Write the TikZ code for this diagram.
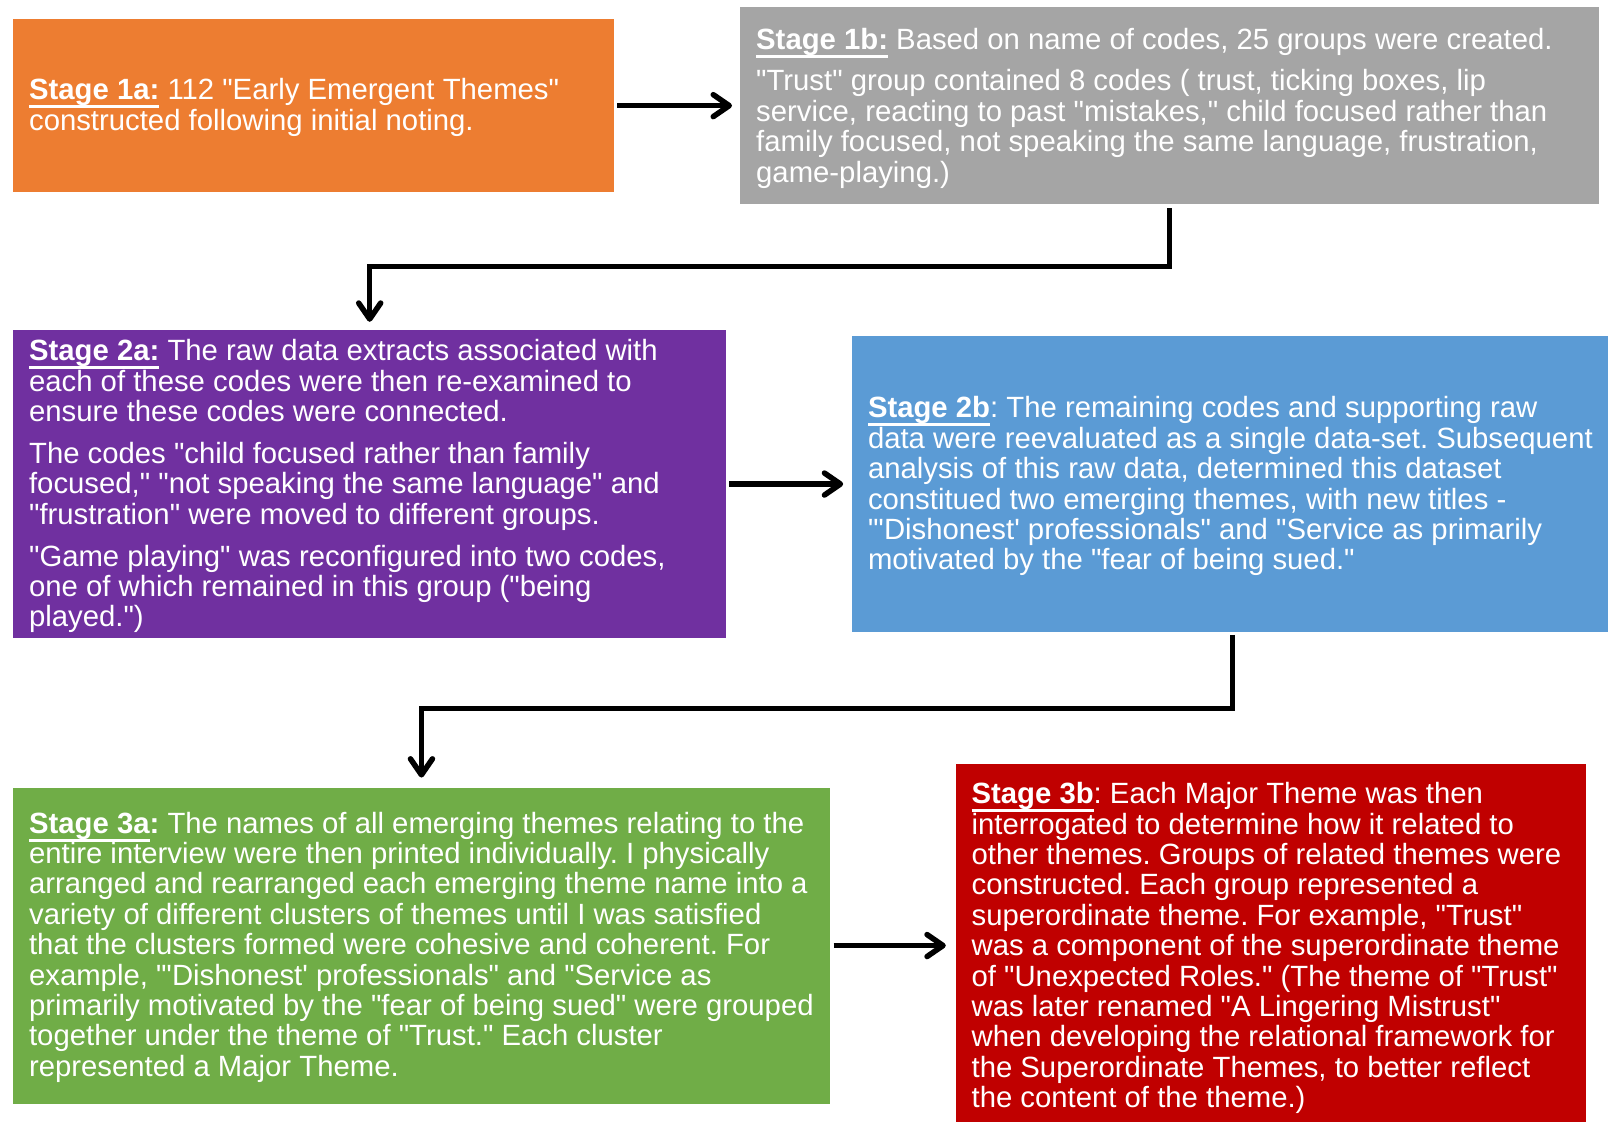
\documentclass[tikz,border=0pt]{standalone}
\usepackage{fontspec}
\setmainfont{Liberation Sans}[Ligatures=TeXOff]
\usetikzlibrary{arrows.meta}

\definecolor{stageorange}{HTML}{ED7D31}
\definecolor{stagegray}{HTML}{A5A5A5}
\definecolor{stagepurple}{HTML}{7030A0}
\definecolor{stageblue}{HTML}{5B9BD5}
\definecolor{stagegreen}{HTML}{70AD47}
\definecolor{stagered}{HTML}{C00000}

% bold, underlined stage label
\newcommand\stagemark[1]{\setbox0\hbox{\bfseries #1}\rlap{\rule[-4.3pt]{\wd0}{1.5pt}}\box0\relax}

\tikzset{
  stagebox/.style={anchor=north west, inner sep=0pt, outer sep=0pt, draw=none},
  stagetext/.style={anchor=west, inner sep=0pt, align=left, text=white,
    font=\fontsize{14.65pt}{15.2pt}\selectfont\frenchspacing},
  conn/.style={line width=2.75pt, draw=black,
    -{Straight Barb[length=8pt,width=11pt,line cap=round,line join=round]}},
}

\begin{document}
\begin{tikzpicture}[x=0.5pt, y=-0.5pt]
\useasboundingbox (0,0) rectangle (1608,1122);

% stage boxes
\node[stagebox, fill=stageorange, minimum width=300.5pt, minimum height=86.15pt] (s1a) at (13.3,19.5) {};
\node[stagebox, fill=stagegray, minimum width=429.2pt, minimum height=98.45pt] (s1b) at (740.4,7.2) {};
\node[stagebox, fill=stagepurple, minimum width=356.4pt, minimum height=153.85pt] (s2a) at (13.3,330.2) {};
\node[stagebox, fill=stageblue, minimum width=378pt, minimum height=147.65pt] (s2b) at (852.2,336.4) {};
\node[stagebox, fill=stagegreen, minimum width=408.15pt, minimum height=157.95pt] (s3a) at (13.3,787.6) {};
\node[stagebox, fill=stagered, minimum width=315.3pt, minimum height=179pt] (s3b) at (955.8,764) {};

% box texts
\node[stagetext] (t1a) at ([xshift=7.7pt,yshift=-0.9pt]s1a.west) {%
\stagemark{Stage 1a:} 112 "Early Emergent Themes"\\
constructed following initial noting.};

\node[stagetext] (t1b) at ([xshift=7.7pt,yshift=-1.2pt]s1b.west) {%
\stagemark{Stage 1b:} Based on name of codes, 25 groups were created.\\[5.75pt]
"Trust" group contained 8 codes ( trust, ticking boxes, lip\\
service, reacting to past "mistakes," child focused rather than\\
family focused, not speaking the same language, frustration,\\
game-playing.)};

\node[stagetext] (t2a) at ([xshift=7.7pt,yshift=-1.1pt]s2a.west) {%
\stagemark{Stage 2a:} The raw data extracts associated with\\
each of these codes were then re-examined to\\
ensure these codes were connected.\\[5.75pt]
The codes "child focused rather than family\\
focused," "not speaking the same language" and\\
"frustration" were moved to different groups.\\[5.75pt]
"Game playing" was reconfigured into two codes,\\
one of which remained in this group ("being\\
played.")};

\node[stagetext] (t2b) at ([xshift=7.7pt,yshift=-1.1pt]s2b.west) {%
\stagemark{Stage 2b}: The remaining codes and supporting raw\\
data were reevaluated as a single data-set. Subsequent\\
analysis of this raw data, determined this dataset\\
constitued two emerging themes, with new titles -\\
"'Dishonest' professionals" and "Service as primarily\\
motivated by the "fear of being sued."};

\node[stagetext] (t3a) at ([xshift=7.7pt,yshift=-0.8pt]s3a.west) {%
\stagemark{Stage 3a}\textbf{:} The names of all emerging themes relating to the\\
entire interview were then printed individually. I physically\\
arranged and rearranged each emerging theme name into a\\
variety of different clusters of themes until I was satisfied\\
that the clusters formed were cohesive and coherent. For\\
example, "'Dishonest' professionals" and "Service as\\
primarily motivated by the "fear of being sued" were grouped\\
together under the theme of "Trust." Each cluster\\
represented a Major Theme.};

\node[stagetext] (t3b) at ([xshift=7.7pt,yshift=-2.6pt]s3b.west) {%
\stagemark{Stage 3b}: Each Major Theme was then\\
interrogated to determine how it related to\\
other themes. Groups of related themes were\\
constructed. Each group represented a\\
superordinate theme. For example, "Trust"\\
was a component of the superordinate theme\\
of "Unexpected Roles." (The theme of "Trust"\\
was later renamed "A Lingering Mistrust"\\
when developing the relational framework for\\
the Superordinate Themes, to better reflect\\
the content of the theme.)};

% connectors
\coordinate (bend1) at (0,266.5);
\coordinate (bend2) at (0,708.6);

\draw[conn, shorten <=1.4pt, shorten >=4.2pt] (s1a.east) -- (s1a.east -| s1b.west);
\draw[conn, shorten <=2pt, shorten >=4.2pt] (s1b.south) -- (s1b.south |- bend1) -| (s2a.north);
\draw[conn, shorten <=1.6pt, shorten >=4.5pt] (s2a.east) -- (s2a.east -| s2b.west);
\draw[conn, shorten <=1.6pt, shorten >=5pt] ([xshift=1.2pt]s2b.south) -- ([xshift=1.2pt]s2b.south |- bend2) -| (s3a.north);
\draw[conn, shorten <=2pt, shorten >=5pt] (s3a.east) -- (s3a.east -| s3b.west);
\end{tikzpicture}
\end{document}
